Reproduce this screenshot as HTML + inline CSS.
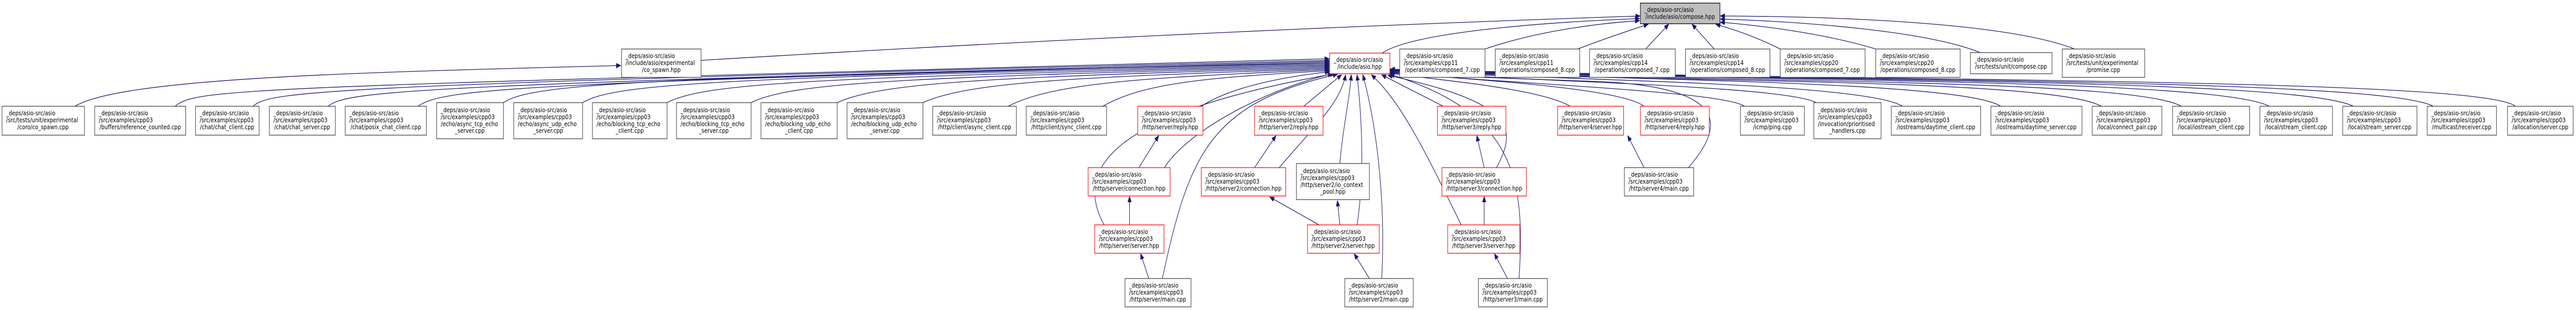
<!DOCTYPE html>
<html><head><meta charset="utf-8"><style>
html,body{margin:0;padding:0;background:#fff;overflow:hidden;width:100%;}
svg{display:block;width:100vw;height:601px;}
text{font-family:"DejaVu Sans","Liberation Sans",sans-serif;font-size:12.7px;fill:#000;}
.e{fill:none;stroke:#191970;stroke-width:1.3;marker-end:url(#a);}
.b{fill:#fff;stroke:#404040;stroke-width:1.3;}
.r{fill:#fff;stroke:#ff0000;stroke-width:1.3;}
.m{text-anchor:middle;}
</style></head><body>
<svg viewBox="0 0 6283 601" preserveAspectRatio="none" xmlns="http://www.w3.org/2000/svg">
<defs><marker id="a" markerUnits="userSpaceOnUse" markerWidth="12" markerHeight="10" refX="11" refY="4.5" orient="auto"><path d="M0,0 L11,4.5 L0,9 Z" fill="#191970" stroke="#191970"/></marker></defs>

<path class="e" d="M1710,117 Q2900,60 4000,31"/>
<path class="e" d="M3371,103 C3450,60 3800,42 3999,36"/>
<path class="e" d="M3622,95 C3750,60 3900,45 3999,40"/>
<path class="e" d="M3848,95 C3930,70 3990,55 4020,47"/>
<path class="e" d="M4014,95 L4070,47"/>
<path class="e" d="M4181,95 L4127,47"/>
<path class="e" d="M4342,95 C4280,70 4220,55 4185,47"/>
<path class="e" d="M4575,95 C4450,65 4300,50 4196,43"/>
<path class="e" d="M4830,102 C4700,60 4400,42 4196,37"/>
<path class="e" d="M5060,95 C4900,45 4500,32 4196,31"/>
<path class="e" d="M183,206 C300,150 900,140 1514,127"/>

<path class="e" d="M427,206 C480,170 600,170 3242,114"/>
<path class="e" d="M617,206 C660,175 800,165 3242,117"/>
<path class="e" d="M800,206 C850,175 1000,165 3242,119"/>
<path class="e" d="M1020,206 C1080,170 1300,160 3242,121"/>
<path class="e" d="M1228,199 C1300,160 1600,150 3242,123"/>
<path class="e" d="M1421,199 C1500,160 1800,150 3242,125"/>
<path class="e" d="M1627,199 C1720,160 2000,150 3242,127"/>
<path class="e" d="M1832,199 C1930,160 2200,150 3242,129"/>
<path class="e" d="M2042,199 C2150,160 2400,150 3242,131"/>
<path class="e" d="M2251,199 C2360,160 2600,150 3242,133"/>
<path class="e" d="M2459,206 C2570,160 2800,150 3242,135"/>
<path class="e" d="M2690,206 C2790,160 2950,150 3242,137"/>

<path class="e" d="M2930,206 C3000,170 3120,150 3243,139"/>
<path class="e" d="M2778,325 L2826,263"/>
<path class="e" d="M2840,325 C2900,250 3100,170 3250,143"/>
<path class="e" d="M2755,436 L2755,381"/>
<path class="e" d="M2693,436 C2620,330 2700,220 3255,143"/>
<path class="e" d="M2802,540 L2782,492"/>
<path class="e" d="M2835,540 C2900,300 2950,200 3262,144"/>
<path class="e" d="M3180,206 L3272,145"/>
<path class="e" d="M3060,325 L3112,263"/>
<path class="e" d="M3120,325 C3200,250 3270,200 3282,145"/>
<path class="e" d="M3268,317 C3275,250 3290,200 3296,145"/>
<path class="e" d="M3217,436 L3097,382"/>
<path class="e" d="M3268,436 L3262,389"/>
<path class="e" d="M3310,436 C3330,330 3320,220 3310,145"/>
<path class="e" d="M3340,540 L3303,492"/>
<path class="e" d="M3370,540 C3380,400 3360,250 3324,145"/>
<path class="e" d="M3520,206 L3370,145"/>
<path class="e" d="M3620,325 L3602,263"/>
<path class="e" d="M3650,325 C3700,250 3700,200 3385,146"/>
<path class="e" d="M3620,436 L3620,381"/>
<path class="e" d="M3564,436 C3480,300 3420,200 3345,145"/>
<path class="e" d="M3677,540 L3645,492"/>
<path class="e" d="M3705,540 C3720,350 3700,220 3390,144"/>
<path class="e" d="M3830,206 C3750,170 3500,155 3390,142"/>
<path class="e" d="M4010,206 C3950,170 3600,155 3390,141"/>
<path class="e" d="M4010,325 L3970,263"/>
<path class="e" d="M4118,325 C4200,250 4230,170 3900,158 C3600,150 3450,145 3390,140"/>

<path class="e" d="M4255,206 C4200,175 3600,160 3391,139"/>
<path class="e" d="M4430,199 C4350,165 3700,158 3391,138"/>
<path class="e" d="M4640,206 C4550,160 3800,155 3391,138"/>
<path class="e" d="M4880,206 C4780,155 3900,155 3391,137"/>
<path class="e" d="M5125,206 C5000,150 4000,160 3391,137"/>
<path class="e" d="M5320,206 C5200,150 4100,160 3391,136"/>
<path class="e" d="M5535,206 C5400,150 4200,158 3391,136"/>
<path class="e" d="M5740,206 C5600,150 4300,158 3391,135"/>
<path class="e" d="M5935,206 C5800,150 4400,158 3391,135"/>
<path class="e" d="M6135,206 C6050,150 4500,158 3391,134"/>

<rect x="4001" y="6" width="194" height="40" fill="#bfbfbf" stroke="#000" stroke-width="1.3"/>
<text x="4011" y="22.9">_deps/asio-src/asio</text><text class="m" x="4098" y="36.3">/include/asio/compose.hpp</text>

<rect class="r" x="3243" y="103" width="147" height="40"/>
<text x="3253" y="119.9">_deps/asio-src/asio</text><text class="m" x="3316" y="133.3">/include/asio.hpp</text>

<rect class="b" x="1516" y="95" width="194" height="55"/>
<text x="1526" y="112.7">_deps/asio-src/asio</text><text x="1526" y="126.1">/include/asio/experimental</text><text class="m" x="1613" y="139.5">/co_spawn.hpp</text>

<rect class="b" x="3414" y="95" width="208" height="55"/>
<text x="3424" y="112.7">_deps/asio-src/asio</text><text x="3424" y="126.1">/src/examples/cpp11</text><text class="m" x="3518" y="139.5">/operations/composed_7.cpp</text>
<rect class="b" x="3647" y="95" width="206" height="55"/>
<text x="3657" y="112.7">_deps/asio-src/asio</text><text x="3657" y="126.1">/src/examples/cpp11</text><text class="m" x="3750" y="139.5">/operations/composed_8.cpp</text>
<rect class="b" x="3877" y="95" width="209" height="55"/>
<text x="3887" y="112.7">_deps/asio-src/asio</text><text x="3887" y="126.1">/src/examples/cpp14</text><text class="m" x="3981" y="139.5">/operations/composed_7.cpp</text>
<rect class="b" x="4111" y="95" width="206" height="55"/>
<text x="4121" y="112.7">_deps/asio-src/asio</text><text x="4121" y="126.1">/src/examples/cpp14</text><text class="m" x="4214" y="139.5">/operations/composed_8.cpp</text>
<rect class="b" x="4342" y="95" width="207" height="55"/>
<text x="4352" y="112.7">_deps/asio-src/asio</text><text x="4352" y="126.1">/src/examples/cpp20</text><text class="m" x="4445" y="139.5">/operations/composed_7.cpp</text>
<rect class="b" x="4575" y="95" width="206" height="55"/>
<text x="4585" y="112.7">_deps/asio-src/asio</text><text x="4585" y="126.1">/src/examples/cpp20</text><text class="m" x="4678" y="139.5">/operations/composed_8.cpp</text>
<rect class="b" x="4806" y="102" width="199" height="41"/>
<text x="4816" y="119.4">_deps/asio-src/asio</text><text class="m" x="4905" y="132.8">/src/tests/unit/compose.cpp</text>
<rect class="b" x="5030" y="95" width="201" height="55"/>
<text x="5040" y="112.7">_deps/asio-src/asio</text><text x="5040" y="126.1">/src/tests/unit/experimental</text><text class="m" x="5130" y="139.5">/promise.cpp</text>

<rect class="b" x="5" y="206" width="201" height="56"/>
<text x="15" y="223.7">_deps/asio-src/asio</text><text x="15" y="237.1">/src/tests/unit/experimental</text><text class="m" x="105" y="250.5">/coro/co_spawn.cpp</text>
<rect class="b" x="231" y="206" width="222" height="56"/>
<text x="241" y="223.7">_deps/asio-src/asio</text><text x="241" y="237.1">/src/examples/cpp03</text><text class="m" x="342" y="250.5">/buffers/reference_counted.cpp</text>
<rect class="b" x="477" y="206" width="155" height="56"/>
<text x="487" y="223.7">_deps/asio-src/asio</text><text x="487" y="237.1">/src/examples/cpp03</text><text class="m" x="554" y="250.5">/chat/chat_client.cpp</text>
<rect class="b" x="657" y="206" width="161" height="56"/>
<text x="667" y="223.7">_deps/asio-src/asio</text><text x="667" y="237.1">/src/examples/cpp03</text><text class="m" x="737" y="250.5">/chat/chat_server.cpp</text>
<rect class="b" x="842" y="206" width="198" height="56"/>
<text x="852" y="223.7">_deps/asio-src/asio</text><text x="852" y="237.1">/src/examples/cpp03</text><text class="m" x="941" y="250.5">/chat/posix_chat_client.cpp</text>
<rect class="b" x="1065" y="199" width="163" height="70"/>
<text x="1075" y="217.5">_deps/asio-src/asio</text><text x="1075" y="230.9">/src/examples/cpp03</text><text x="1075" y="244.3">/echo/async_tcp_echo</text><text class="m" x="1146" y="257.7">_server.cpp</text>
<rect class="b" x="1253" y="199" width="168" height="70"/>
<text x="1263" y="217.5">_deps/asio-src/asio</text><text x="1263" y="230.9">/src/examples/cpp03</text><text x="1263" y="244.3">/echo/async_udp_echo</text><text class="m" x="1337" y="257.7">_server.cpp</text>
<rect class="b" x="1445" y="199" width="182" height="70"/>
<text x="1455" y="217.5">_deps/asio-src/asio</text><text x="1455" y="230.9">/src/examples/cpp03</text><text x="1455" y="244.3">/echo/blocking_tcp_echo</text><text class="m" x="1536" y="257.7">_client.cpp</text>
<rect class="b" x="1650" y="199" width="182" height="70"/>
<text x="1660" y="217.5">_deps/asio-src/asio</text><text x="1660" y="230.9">/src/examples/cpp03</text><text x="1660" y="244.3">/echo/blocking_tcp_echo</text><text class="m" x="1741" y="257.7">_server.cpp</text>
<rect class="b" x="1856" y="199" width="186" height="70"/>
<text x="1866" y="217.5">_deps/asio-src/asio</text><text x="1866" y="230.9">/src/examples/cpp03</text><text x="1866" y="244.3">/echo/blocking_udp_echo</text><text class="m" x="1949" y="257.7">_client.cpp</text>
<rect class="b" x="2066" y="199" width="185" height="70"/>
<text x="2076" y="217.5">_deps/asio-src/asio</text><text x="2076" y="230.9">/src/examples/cpp03</text><text x="2076" y="244.3">/echo/blocking_udp_echo</text><text class="m" x="2158" y="257.7">_server.cpp</text>
<rect class="b" x="2275" y="206" width="204" height="56"/>
<text x="2285" y="223.7">_deps/asio-src/asio</text><text x="2285" y="237.1">/src/examples/cpp03</text><text class="m" x="2377" y="250.5">/http/client/async_client.cpp</text>
<rect class="b" x="2503" y="206" width="196" height="56"/>
<text x="2513" y="223.7">_deps/asio-src/asio</text><text x="2513" y="237.1">/src/examples/cpp03</text><text class="m" x="2601" y="250.5">/http/client/sync_client.cpp</text>
<rect class="r" x="2775" y="206" width="159" height="56"/>
<text x="2785" y="223.7">_deps/asio-src/asio</text><text x="2785" y="237.1">/src/examples/cpp03</text><text class="m" x="2854" y="250.5">/http/server/reply.hpp</text>
<rect class="r" x="3060" y="206" width="167" height="56"/>
<text x="3070" y="223.7">_deps/asio-src/asio</text><text x="3070" y="237.1">/src/examples/cpp03</text><text class="m" x="3143" y="250.5">/http/server2/reply.hpp</text>
<rect class="r" x="3506" y="206" width="167" height="56"/>
<text x="3516" y="223.7">_deps/asio-src/asio</text><text x="3516" y="237.1">/src/examples/cpp03</text><text class="m" x="3589" y="250.5">/http/server3/reply.hpp</text>
<rect class="r" x="3799" y="206" width="161" height="56"/>
<text x="3809" y="223.7">_deps/asio-src/asio</text><text x="3809" y="237.1">/src/examples/cpp03</text><text class="m" x="3879" y="250.5">/http/server4/server.hpp</text>
<rect class="r" x="4001" y="206" width="168" height="56"/>
<text x="4011" y="223.7">_deps/asio-src/asio</text><text x="4011" y="237.1">/src/examples/cpp03</text><text class="m" x="4085" y="250.5">/http/server4/reply.hpp</text>
<rect class="b" x="4245" y="206" width="156" height="56"/>
<text x="4255" y="223.7">_deps/asio-src/asio</text><text x="4255" y="237.1">/src/examples/cpp03</text><text class="m" x="4323" y="250.5">/icmp/ping.cpp</text>
<rect class="b" x="4424" y="199" width="164" height="70"/>
<text x="4434" y="217.5">_deps/asio-src/asio</text><text x="4434" y="230.9">/src/examples/cpp03</text><text x="4434" y="244.3">/invocation/prioritised</text><text class="m" x="4506" y="257.7">_handlers.cpp</text>
<rect class="b" x="4613" y="206" width="218" height="56"/>
<text x="4623" y="223.7">_deps/asio-src/asio</text><text x="4623" y="237.1">/src/examples/cpp03</text><text class="m" x="4722" y="250.5">/iostreams/daytime_client.cpp</text>
<rect class="b" x="4856" y="206" width="222" height="56"/>
<text x="4866" y="223.7">_deps/asio-src/asio</text><text x="4866" y="237.1">/src/examples/cpp03</text><text class="m" x="4967" y="250.5">/iostreams/daytime_server.cpp</text>
<rect class="b" x="5103" y="206" width="170" height="56"/>
<text x="5113" y="223.7">_deps/asio-src/asio</text><text x="5113" y="237.1">/src/examples/cpp03</text><text class="m" x="5188" y="250.5">/local/connect_pair.cpp</text>
<rect class="b" x="5299" y="206" width="188" height="56"/>
<text x="5309" y="223.7">_deps/asio-src/asio</text><text x="5309" y="237.1">/src/examples/cpp03</text><text class="m" x="5393" y="250.5">/local/iostream_client.cpp</text>
<rect class="b" x="5512" y="206" width="177" height="56"/>
<text x="5522" y="223.7">_deps/asio-src/asio</text><text x="5522" y="237.1">/src/examples/cpp03</text><text class="m" x="5600" y="250.5">/local/stream_client.cpp</text>
<rect class="b" x="5714" y="206" width="181" height="56"/>
<text x="5724" y="223.7">_deps/asio-src/asio</text><text x="5724" y="237.1">/src/examples/cpp03</text><text class="m" x="5804" y="250.5">/local/stream_server.cpp</text>
<rect class="b" x="5920" y="206" width="169" height="56"/>
<text x="5930" y="223.7">_deps/asio-src/asio</text><text x="5930" y="237.1">/src/examples/cpp03</text><text class="m" x="6004" y="250.5">/multicast/receiver.cpp</text>
<rect class="b" x="6116" y="206" width="160" height="56"/>
<text x="6126" y="223.7">_deps/asio-src/asio</text><text x="6126" y="237.1">/src/examples/cpp03</text><text class="m" x="6196" y="250.5">/allocation/server.cpp</text>

<rect class="r" x="2654" y="325" width="200" height="55"/>
<text x="2664" y="342.7">_deps/asio-src/asio</text><text x="2664" y="356.1">/src/examples/cpp03</text><text class="m" x="2754" y="369.5">/http/server/connection.hpp</text>
<rect class="r" x="2930" y="325" width="206" height="55"/>
<text x="2940" y="342.7">_deps/asio-src/asio</text><text x="2940" y="356.1">/src/examples/cpp03</text><text class="m" x="3033" y="369.5">/http/server2/connection.hpp</text>
<rect class="b" x="3162" y="317" width="178" height="70"/>
<text x="3172" y="335.5">_deps/asio-src/asio</text><text x="3172" y="348.9">/src/examples/cpp03</text><text x="3172" y="362.3">/http/server2/io_context</text><text class="m" x="3251" y="375.7">_pool.hpp</text>
<rect class="r" x="3517" y="325" width="206" height="55"/>
<text x="3527" y="342.7">_deps/asio-src/asio</text><text x="3527" y="356.1">/src/examples/cpp03</text><text class="m" x="3620" y="369.5">/http/server3/connection.hpp</text>
<rect class="b" x="3962" y="325" width="169" height="55"/>
<text x="3972" y="342.7">_deps/asio-src/asio</text><text x="3972" y="356.1">/src/examples/cpp03</text><text class="m" x="4046" y="369.5">/http/server4/main.cpp</text>

<rect class="r" x="2670" y="436" width="169" height="55"/>
<text x="2680" y="453.7">_deps/asio-src/asio</text><text x="2680" y="467.1">/src/examples/cpp03</text><text class="m" x="2754" y="480.5">/http/server/server.hpp</text>
<rect class="r" x="3189" y="436" width="175" height="55"/>
<text x="3199" y="453.7">_deps/asio-src/asio</text><text x="3199" y="467.1">/src/examples/cpp03</text><text class="m" x="3276" y="480.5">/http/server2/server.hpp</text>
<rect class="r" x="3531" y="436" width="176" height="55"/>
<text x="3541" y="453.7">_deps/asio-src/asio</text><text x="3541" y="467.1">/src/examples/cpp03</text><text class="m" x="3619" y="480.5">/http/server3/server.hpp</text>

<rect class="b" x="2744" y="540" width="161" height="55"/>
<text x="2754" y="557.7">_deps/asio-src/asio</text><text x="2754" y="571.1">/src/examples/cpp03</text><text class="m" x="2824" y="584.5">/http/server/main.cpp</text>
<rect class="b" x="3280" y="540" width="167" height="55"/>
<text x="3290" y="557.7">_deps/asio-src/asio</text><text x="3290" y="571.1">/src/examples/cpp03</text><text class="m" x="3363" y="584.5">/http/server2/main.cpp</text>
<rect class="b" x="3606" y="540" width="168" height="55"/>
<text x="3616" y="557.7">_deps/asio-src/asio</text><text x="3616" y="571.1">/src/examples/cpp03</text><text class="m" x="3690" y="584.5">/http/server3/main.cpp</text>
</svg>
</body></html>
